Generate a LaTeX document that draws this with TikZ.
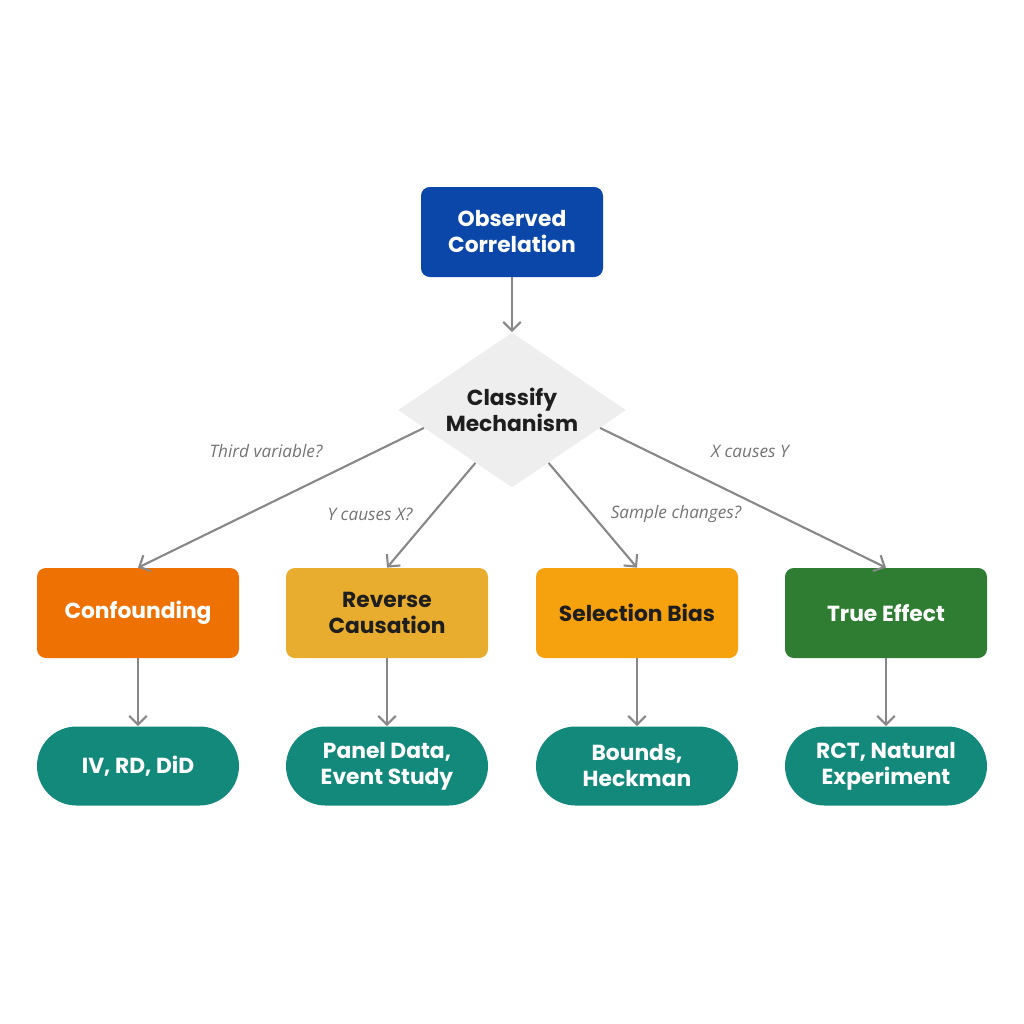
\documentclass[tikz,border=0pt]{standalone}
\usepackage{fontspec}
\setmainfont{Poppins}
\newfontfamily\labelfont{Open Sans}
\usepackage{tikz}
\usetikzlibrary{calc, positioning, arrows.meta, shapes.geometric}
\usepackage{xcolor}
\definecolor{obsBlue}{HTML}{0B47A8}
\definecolor{confOrange}{HTML}{EE7203}
\definecolor{revYellow}{HTML}{E8AD2E}
\definecolor{selAmber}{HTML}{F6A20F}
\definecolor{trueGreen}{HTML}{2E7D32}
\definecolor{methTeal}{HTML}{13897B}
\definecolor{diaGray}{HTML}{EEEEEE}
\definecolor{linkGray}{HTML}{888888}
\definecolor{inkDark}{HTML}{1E1E1E}

\begin{document}
\begin{tikzpicture}[
  box/.style={rounded corners=5pt, minimum width=4.04cm, minimum height=1.8cm,
              inner sep=2pt, font=\fontsize{12.4}{14.8}\selectfont\bfseries, align=center},
  pill/.style={rounded corners=0.79cm, minimum width=4.04cm, minimum height=1.58cm,
               inner sep=2pt, fill=methTeal, text=white,
               font=\fontsize{12.4}{14.8}\selectfont\bfseries, align=center},
  link/.style={draw=linkGray, line width=1.2pt},
  cond/.style={font=\labelfont\itshape\fontsize{9.8}{11}\selectfont, text=linkGray!85!black},
  >={Straight Barb[length=5pt, width=10pt, line width=1.2pt]}
]
  \useasboundingbox (0,0) rectangle (20.48,-20.48);

  % ── top ──
  \node[box, fill=obsBlue, text=white, minimum width=3.64cm] (obs) at (10.24,-4.64)
    {Observed\\Correlation};
  \node[diamond, fill=diaGray, minimum width=4.56cm, minimum height=3.1cm, inner sep=0pt]
    (cls) at (10.24,-8.2) {};
  \node[font=\fontsize{12.4}{14.8}\selectfont\bfseries, align=center, text=inkDark]
    (clsText) at (cls) {Classify\\Mechanism};
  \draw[link, ->] (obs) -- (cls);

  % ── mechanisms ──
  \node[box, fill=confOrange, text=white] (conf) at (2.76,-12.26) {Confounding};
  \node[box, fill=revYellow, text=inkDark] (rev) at (7.74,-12.26) {Reverse\\Causation};
  \node[box, fill=selAmber, text=inkDark] (sel) at (12.74,-12.26) {Selection Bias};
  \node[box, fill=trueGreen, text=white] (eff) at (17.72,-12.26) {True Effect};

  \draw[link, ->] ($(cls.west)!0.23!(cls.south)$) -- (conf.north);
  \draw[link, ->] ($(cls.west)!0.68!(cls.south)$) -- (rev.north);
  \draw[link, ->] ($(cls.east)!0.68!(cls.south)$) -- (sel.north);
  \draw[link, ->] ($(cls.east)!0.23!(cls.south)$) -- (eff.north);

  \node[cond] (q1) at (5.32,-9.02) {Third variable?};
  \node[cond] (q2) at (7.4,-10.28) {Y causes X?};
  \node[cond] (q3) at (13.52,-10.28) {Sample changes?};
  \node[cond] (q4) at (15.0,-9.02) {X causes Y};

  % ── methods ──
  \node[pill] (m1) at (2.76,-15.32) {IV, RD, DiD};
  \node[pill] (m2) at (7.74,-15.32) {Panel Data,\\Event Study};
  \node[pill] (m3) at (12.74,-15.32) {Bounds,\\Heckman};
  \node[pill] (m4) at (17.72,-15.32) {RCT, Natural\\Experiment};

  \draw[link, ->] (conf) -- (m1);
  \draw[link, ->] (rev) -- (m2);
  \draw[link, ->] (sel) -- (m3);
  \draw[link, ->] (eff) -- (m4);
\end{tikzpicture}
\end{document}
